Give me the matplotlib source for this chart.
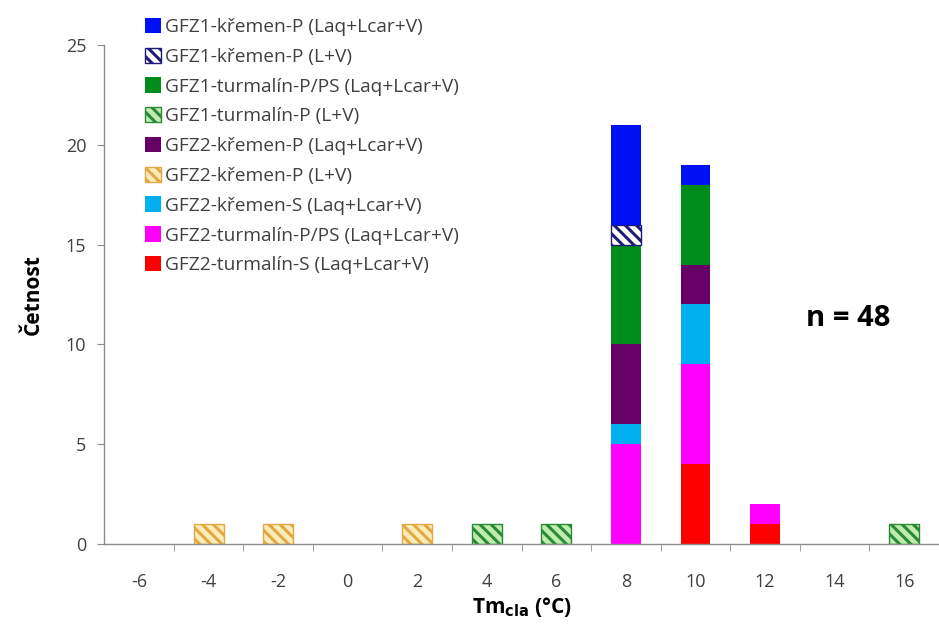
#!/usr/bin/env python3
import matplotlib
matplotlib.use('Agg')
import matplotlib.pyplot as plt
import numpy as np

plt.rcParams['font.family'] = ['Open Sans', 'DejaVu Sans']
plt.rcParams['hatch.linewidth'] = 2.2

# Tm_cla classes (°C)
categories = [-6, -4, -2, 0, 2, 4, 6, 8, 10, 12, 14, 16]

# counts per class, one list per inclusion group
gfz1_kremen_p_laq = [0, 0, 0, 0, 0, 0, 0, 5, 1, 0, 0, 0]
gfz1_kremen_p_lv = [0, 0, 0, 0, 0, 0, 0, 1, 0, 0, 0, 0]
gfz1_turmalin_pps_laq = [0, 0, 0, 0, 0, 0, 0, 5, 4, 0, 0, 0]
gfz1_turmalin_p_lv = [0, 0, 0, 0, 0, 1, 1, 0, 0, 0, 0, 1]
gfz2_kremen_p_laq = [0, 0, 0, 0, 0, 0, 0, 4, 2, 0, 0, 0]
gfz2_kremen_p_lv = [0, 1, 1, 0, 1, 0, 0, 0, 0, 0, 0, 0]
gfz2_kremen_s_laq = [0, 0, 0, 0, 0, 0, 0, 1, 3, 0, 0, 0]
gfz2_turmalin_pps_laq = [0, 0, 0, 0, 0, 0, 0, 5, 5, 1, 0, 0]
gfz2_turmalin_s_laq = [0, 0, 0, 0, 0, 0, 0, 0, 4, 1, 0, 0]

n_total = 48

# legend order (top to bottom); stacking goes the other way
series = [
  ('GFZ1-křemen-P (Laq+Lcar+V)', gfz1_kremen_p_laq, '#0010F5', None, None),
  ('GFZ1-křemen-P (L+V)', gfz1_kremen_p_lv, '#FFFFFF', '#1C1C78', '\\\\\\'),
  ('GFZ1-turmalín-P/PS (Laq+Lcar+V)', gfz1_turmalin_pps_laq, '#008C1A', None, None),
  ('GFZ1-turmalín-P (L+V)', gfz1_turmalin_p_lv, '#C0ECB0', '#2A8A36', '\\\\\\'),
  ('GFZ2-křemen-P (Laq+Lcar+V)', gfz2_kremen_p_laq, '#660066', None, None),
  ('GFZ2-křemen-P (L+V)', gfz2_kremen_p_lv, '#FDEBB8', '#E2A846', '\\\\\\'),
  ('GFZ2-křemen-S (Laq+Lcar+V)', gfz2_kremen_s_laq, '#00B0F0', None, None),
  ('GFZ2-turmalín-P/PS (Laq+Lcar+V)', gfz2_turmalin_pps_laq, '#FF00FF', None, None),
  ('GFZ2-turmalín-S (Laq+Lcar+V)', gfz2_turmalin_s_laq, '#FF0000', None, None),
]

fig = plt.figure(figsize=(9.39, 6.32), dpi=100)
ax = fig.add_axes([0.111, 0.139, 0.889, 0.790])

x = np.arange(len(categories))
bottom = np.zeros(len(categories))
handles = {}
for label, vals, face, edge, hatch in reversed(series):
  vals = np.array(vals, dtype=float)
  nz = vals > 0
  if hatch is None:
    h = ax.bar(x[nz], vals[nz], width=0.43, bottom=bottom[nz], color=face,
               linewidth=0, label=label)
  else:
    h = ax.bar(x[nz], vals[nz], width=0.43, bottom=bottom[nz], facecolor=face,
               edgecolor=edge, hatch=hatch, linewidth=1.0, label=label)
  handles[label] = h
  bottom += vals

ax.set_xlim(-0.5, len(categories) - 0.5)
ax.set_ylim(0, 25)
ax.set_yticks([0, 5, 10, 15, 20, 25])
ax.set_xticks(x)
ax.set_xticklabels([str(c) for c in categories])
ax.set_xticks(np.arange(0.5, len(categories) - 0.5, 1.0), minor=True)

txt = '#404040'
axc = '#8C8C8C'
for s in ['top', 'right']:
  ax.spines[s].set_visible(False)
for s in ['left', 'bottom']:
  ax.spines[s].set_color(axc)
  ax.spines[s].set_linewidth(1.0)
ax.tick_params(axis='x', which='major', length=0, pad=21, labelsize=13, labelcolor=txt)
ax.tick_params(axis='x', which='minor', length=5, color=axc, direction='out')
ax.tick_params(axis='y', length=5, color=axc, pad=8, labelsize=13, labelcolor=txt)

ax.set_ylabel('Četnost', fontsize=15, fontweight='bold', labelpad=16)
ax.set_xlabel(r'Tm$_{\mathbf{cla}}$ (°C)', fontsize=15, fontweight='bold', labelpad=3)

ax.text(0.903, 0.496, f'n = {n_total}', transform=fig.transFigure, fontsize=21,
        fontweight='bold', ha='center', va='center', color='black')

fig.legend([handles[s[0]] for s in series], [s[0] for s in series],
           loc='upper left', bbox_to_anchor=(0.146, 0.984), frameon=False,
           fontsize=13.8, handlelength=0.85, handleheight=0.85, handletextpad=0.2,
           labelspacing=0.6, borderaxespad=0, labelcolor=txt)

plt.savefig('out.png', dpi=100)
plt.close()
